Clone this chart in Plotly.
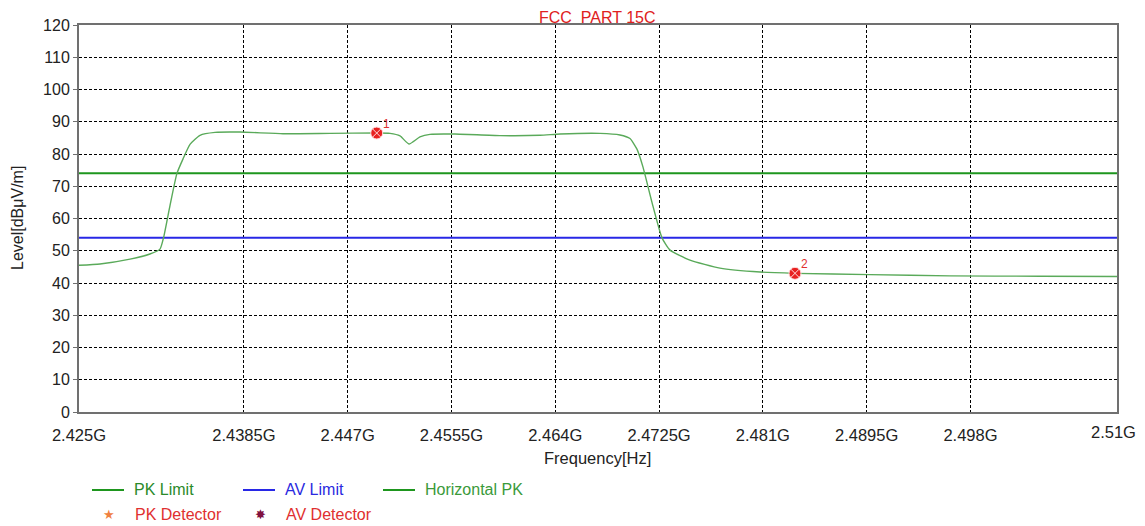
import plotly.graph_objects as go

# ---- data ----
freq_ghz = [2.42500, 2.42672, 2.42918, 2.43081, 2.43163, 2.43192, 2.43245, 2.43302,
            2.43352, 2.43409, 2.43491, 2.43614, 2.43818, 2.44170, 2.44555, 2.44938,
            2.45047, 2.45129, 2.45202, 2.45292, 2.45374, 2.45579, 2.45947, 2.46275,
            2.46439, 2.46766, 2.46930, 2.47012, 2.47069, 2.47118, 2.47192, 2.47274,
            2.47340, 2.47503, 2.47749, 2.48077, 2.48363, 2.48977, 2.49632, 2.50369,
            2.51000]
level_dbuv = [45.5, 45.9, 47.4, 49.0, 50.5, 54.0, 64.0, 74.0,
              78.5, 83.0, 85.8, 86.7, 86.8, 86.3, 86.4, 86.5,
              86.4, 85.6, 83.1, 85.3, 86.1, 86.2, 85.7, 85.8,
              86.2, 86.4, 85.9, 84.8, 81.5, 76.0, 65.0, 54.0,
              50.2, 47.1, 44.6, 43.4, 43.0, 42.6, 42.2, 42.1,
              42.0]
pk_limit = 74
av_limit = 54
marker_freq = [2.44938, 2.48363]
marker_level = [86.5, 43.0]
marker_labels = ["1", "2"]
tick_vals = [2.425, 2.4385, 2.447, 2.4555, 2.464, 2.4725, 2.481, 2.4895, 2.498, 2.51]
tick_text = ["2.425G", "2.4385G", "2.447G", "2.4555G", "2.464G", "2.4725G",
             "2.481G", "2.4895G", "2.498G", "2.51G"]
x_range = [2.425, 2.51]

FONT = "Liberation Sans, Arial, sans-serif"
FS = 16
TFS = 16.5
OFF = 8  # page body margin
W, H = 1145 - OFF, 526 - OFF
# target plot area in page pixels: left 79, right 1117, top 25, bottom 412
L, R, T = 79 - OFF, 1145 - 1117, 25 - OFF
B = (H + OFF) - 412
PW, PH = W - L - R, H - T - B

def px(x):
    # page pixel -> paper x
    return (x - OFF - L) / PW

def py(y):
    # page pixel -> paper y
    return (OFF + H - B - y) / PH

fig = go.Figure()

fig.add_trace(go.Scatter(x=x_range, y=[pk_limit, pk_limit], mode="lines",
                         line=dict(color="#1e961e", width=2), name="PK Limit",
                         showlegend=False))
fig.add_trace(go.Scatter(x=x_range, y=[av_limit, av_limit], mode="lines",
                         line=dict(color="#2828e6", width=2), name="AV Limit",
                         showlegend=False))
fig.add_trace(go.Scatter(x=freq_ghz, y=level_dbuv, mode="lines",
                         line=dict(color="#5aaa5a", width=1.4, shape="spline",
                                   smoothing=0.5),
                         name="Horizontal PK", showlegend=False))
fig.add_trace(go.Scatter(x=marker_freq, y=marker_level, mode="markers",
                         marker=dict(symbol="circle-x", size=12, color="#e82020",
                                     line=dict(color="#ffdddd", width=1)),
                         showlegend=False))

def ann(x, y, text, color, size=FS, family=FONT, xanchor="center", **kw):
    return dict(x=x, y=y, xref="paper", yref="paper", text=text, showarrow=False,
                xanchor=xanchor, yanchor="middle",
                font=dict(color=color, size=size, family=family), **kw)

annotations = []
for f, lv, lab in zip(marker_freq, marker_level, marker_labels):
    annotations.append(dict(x=f, y=lv, xref="x", yref="y", text=lab, showarrow=False,
                            xanchor="center", yanchor="middle",
                            xshift=10, yshift=9, font=dict(color="#e03030", size=12,
                                                           family=FONT)))

annotations.append(ann(px(597), py(17), "FCC  PART 15C", "#e02020", size=16))
annotations.append(ann(px(597), py(458), "Frequency[Hz]", "#222", size=TFS))
annotations.append(ann(px(18), py(218), "Level[dBμV/m]", "#222", textangle=-90))
# last tick label, nudged left so that it stays fully visible on the page
annotations.append(ann(px(1113), py(432), tick_text[-1], "#222", size=TFS))

shapes = []
legend_lines = [(92, 124, 490, "#1e961e", "PK Limit", "#2a8a2a"),
                (243, 275, 490, "#2828e6", "AV Limit", "#2a2ae0"),
                (383, 415, 490, "#1e961e", "Horizontal PK", "#3a9a3a")]
for x0, x1, yy, c, txt, tc in legend_lines:
    shapes.append(dict(type="line", xref="paper", yref="paper", x0=px(x0), x1=px(x1),
                       y0=py(yy), y1=py(yy), line=dict(color=c, width=2)))
    annotations.append(ann(px(x1 + 8), py(yy), txt, tc, xanchor="left"))
legend_syms = [(109, 514, "★", "#f08040", "PK Detector"),
               (260, 514, "✸", "#801040", "AV Detector")]
for xx, yy, sym, c, txt in legend_syms:
    annotations.append(ann(px(xx), py(yy), sym, c, size=13, family="DejaVu Sans"))
    annotations.append(ann(px(xx + 24), py(yy), txt, "#e03030", xanchor="left"))

fig.update_layout(
    width=W, height=H,
    margin=dict(l=L, r=R, t=T, b=B, autoexpand=False),
    paper_bgcolor="white", plot_bgcolor="white",
    font=dict(family=FONT, size=FS, color="#222"),
    annotations=annotations, shapes=shapes,
    showlegend=False,
)
fig.update_xaxes(range=x_range, tickvals=tick_vals,
                 ticktext=tick_text[:-1] + [""],
                 showgrid=True, gridcolor="#000", griddash="3px,2px", gridwidth=1,
                 showline=True, mirror=True, linecolor="#707070", linewidth=2,
                 ticks="", ticklabelstandoff=7, zeroline=False, automargin=False,
                 tickfont=dict(size=TFS, color="#222"))
fig.update_yaxes(range=[0, 120], dtick=10, tick0=0,
                 showgrid=True, gridcolor="#000", griddash="3px,2px", gridwidth=1,
                 showline=True, mirror=True, linecolor="#707070", linewidth=2,
                 ticks="outside", ticklen=4, tickcolor="#707070", zeroline=False,
                 automargin=False, tickfont=dict(size=FS, color="#222"))

fig.write_html("out.html")
